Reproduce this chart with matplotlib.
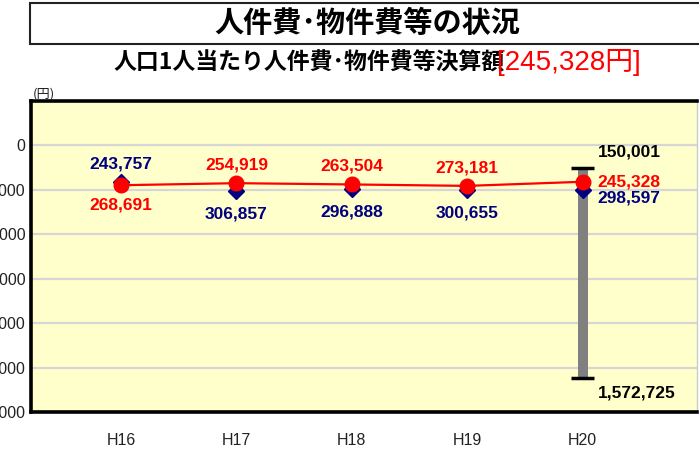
import matplotlib
matplotlib.use("Agg")
import matplotlib.pyplot as plt
from matplotlib.patches import Rectangle
from matplotlib.ticker import FuncFormatter, FixedLocator

# ---- data ----
categories = ["H16", "H17", "H18", "H19", "H20"]
city_values = [268691, 254919, 263504, 273181, 245328]      # red line
group_avg = [243757, 306857, 296888, 300655, 298597]        # navy diamonds
range_max_label = 150001     # top of H20 range (smallest value)
range_min_label = 1572725    # bottom of H20 range (largest value)
yticks = [0, 300000, 600000, 900000, 1200000, 1500000, 1800000]
title = "人件費･物件費等の状況"
subtitle = "人口1人当たり人件費･物件費等決算額"
subtitle_value = "[245,328円]"

W, H = 699, 461
fig = plt.figure(figsize=(W / 100, H / 100), dpi=100)
fig.patch.set_facecolor("white")

def fx(px):
    return px / W

def fy(py):
    return 1 - py / H

cjk = ["Noto Sans CJK JP", "DejaVu Sans"]
lat = ["Liberation Sans", "Noto Sans CJK JP", "DejaVu Sans"]

# title box
fig.patches.append(Rectangle((fx(30), fy(44)), fx(690), (44 - 3) / H,
                             transform=fig.transFigure, facecolor="white",
                             edgecolor="#222222", linewidth=1.5))
fig.text(fx(367), fy(23), title, ha="center", va="center", fontsize=21,
         fontweight="bold", family=cjk, color="black")
fig.text(fx(505), fy(63), subtitle, ha="right", va="center", fontsize=16.5,
         fontweight="bold", family=cjk, color="black")
fig.text(fx(497), fy(62), subtitle_value, ha="left", va="center", fontsize=20,
         family=lat, color="#ff0000")
fig.text(fx(44), fy(94), "(円)", ha="center", va="center", fontsize=9.5,
         family=cjk, color="#222222")

# axes
left, right, top, bottom = 31, 697, 101, 412
ax = fig.add_axes([fx(left), fy(bottom), (right - left) / W, (bottom - top) / H])
ax.set_facecolor("#FFFFCC")
x = list(range(len(categories)))
ax.set_xlim(-0.78, 4.99)
ax.set_ylim(1800000, -300000)

ax.yaxis.set_major_locator(FixedLocator(yticks))
ax.yaxis.set_major_formatter(FuncFormatter(lambda v, p: f"{int(v):,}"))
ax.set_xticks(x)
ax.set_xticklabels(categories)
ax.tick_params(axis="both", length=0, labelsize=11.5, colors="#222222")
ax.tick_params(axis="y", pad=4)
ax.tick_params(axis="x", pad=15)
for lab in ax.get_xticklabels() + ax.get_yticklabels():
    lab.set_family(lat)

ax.grid(axis="y", color="#d6d6d6", linewidth=1.6)
ax.set_axisbelow(True)
for s in ["left", "top", "bottom"]:
    ax.spines[s].set_color("black")
    ax.spines[s].set_linewidth(2.6)
ax.spines["right"].set_color("#cccccc")
ax.spines["right"].set_linewidth(1.0)

# H20 range bar
xi = categories.index("H20")
ax.bar(xi, range_min_label - range_max_label, bottom=range_max_label, width=0.085,
       color="#808080", zorder=2)
ax.hlines([range_max_label, range_min_label], xi - 0.1, xi + 0.1, color="black",
          linewidth=2.5, zorder=3)

# series
ax.plot(x, group_avg, linestyle="none", marker="D", markersize=8,
        color="#000080", zorder=4)
ax.plot(x, city_values, color="#ff0000", linewidth=1.6, marker="o",
        markersize=10.5, zorder=5)

lbl = dict(fontsize=12.5, fontweight="bold", family=lat,
           textcoords="offset pixels", va="center")
for i in range(len(categories) - 1):
    r, b = city_values[i], group_avg[i]
    r_up = r < b
    ax.annotate(f"{r:,}", (i, r), xytext=(0, 18 if r_up else -20), ha="center",
                color="#ff0000", **lbl)
    ax.annotate(f"{b:,}", (i, b), xytext=(0, 18 if not r_up else -23), ha="center",
                color="#000080", **lbl)

ax.annotate(f"{city_values[xi]:,}", (xi, city_values[xi]), xytext=(15, 0),
            ha="left", color="#ff0000", **lbl)
ax.annotate(f"{group_avg[xi]:,}", (xi, group_avg[xi]), xytext=(15, -8),
            ha="left", color="#000080", **lbl)
ax.annotate(f"{range_max_label:,}", (xi, range_max_label), xytext=(15, 16),
            ha="left", color="black", **lbl)
ax.annotate(f"{range_min_label:,}", (xi, range_min_label), xytext=(15, -15),
            ha="left", color="black", **lbl)

fig.savefig("out.png", dpi=100)
